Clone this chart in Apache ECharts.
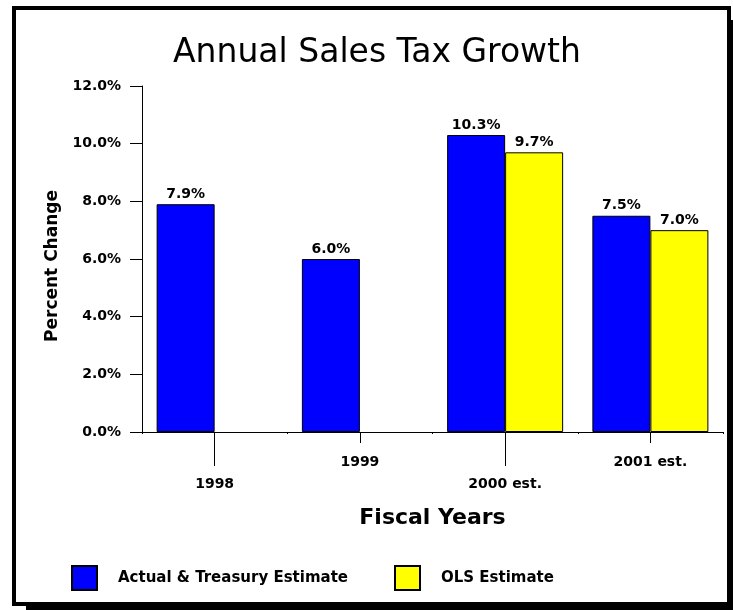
<!DOCTYPE html>
<html>
<head>
<meta charset="utf-8">
<script src="https://cdn.jsdelivr.net/npm/echarts@6/dist/echarts.min.js"></script>
<style>
  html, body { margin: 0; padding: 0; background: #ffffff; }
  #chart { width: 733px; height: 610px; }
</style>
</head>
<body>
<div id="chart"></div>
<script>
// Fiscal years on the category axis
var categories = ['1998', '1999', '2000 est.', '2001 est.'];
// Percent change in sales tax revenue
var actualTreasury = [7.9, 6.0, 10.3, 7.5];
var olsEstimate = [null, null, 9.7, 7.0];
// Value axis range
var yMin = 0;
var yMax = 12;
var yStep = 2;

var FONT = 'DejaVu Sans';
var pct = function (v) { return Number(v).toFixed(1) + '%'; };

var chart = echarts.init(document.getElementById('chart'), null, { renderer: 'canvas' });

var boldText = { color: '#000', fontFamily: FONT, fontWeight: 'bold', fontSize: 14 };

chart.setOption({
  animation: false,
  backgroundColor: '#ffffff',
  textStyle: { fontFamily: FONT },
  graphic: [
    // drop shadow of the frame
    { type: 'rect', z: -2, silent: true,
      shape: { x: 26, y: 20, width: 720, height: 590 },
      style: { fill: '#000' } },
    // framed panel
    { type: 'rect', z: -1, silent: true,
      shape: { x: 14, y: 8, width: 715, height: 596 },
      style: { fill: '#fff', stroke: '#000', lineWidth: 4 } }
  ],
  title: {
    text: 'Annual Sales Tax Growth',
    left: 372,
    textAlign: 'center',
    top: 32,
    textStyle: { color: '#000', fontFamily: FONT, fontWeight: 'normal', fontSize: 33 }
  },
  legend: {
    left: 71,
    top: 565,
    padding: 0,
    itemWidth: 25,
    itemHeight: 24,
    itemGap: 46,
    icon: 'rect',
    textStyle: { color: '#000', fontFamily: FONT, fontWeight: 'bold', fontSize: 15, padding: [0, 0, 0, 16] },
    data: ['Actual & Treasury Estimate', 'OLS Estimate']
  },
  grid: { left: 142, right: 10, top: 86, bottom: 178, containLabel: false },
  xAxis: [
    {
      type: 'category',
      data: categories,
      position: 'bottom',
      axisLine: { lineStyle: { color: '#000', width: 1 } },
      axisTick: { show: true, length: 2, alignWithLabel: false, lineStyle: { color: '#000' } },
      axisLabel: { show: false },
      splitLine: { show: false },
      name: 'Fiscal Years',
      nameLocation: 'middle',
      nameGap: 75,
      nameTextStyle: { color: '#000', fontFamily: FONT, fontWeight: 'bold', fontSize: 22 }
    },
    {
      type: 'category',
      data: categories,
      position: 'bottom',
      axisLine: { show: false },
      axisTick: { show: true, length: 34, alignWithLabel: true,
        interval: function (i) { return i % 2 === 0; },
        lineStyle: { color: '#000' } },
      axisLabel: Object.assign({ margin: 45, interval: function (i) { return i % 2 === 0; } }, boldText),
      splitLine: { show: false }
    },
    {
      type: 'category',
      data: categories,
      position: 'bottom',
      axisLine: { show: false },
      axisTick: { show: true, length: 11, alignWithLabel: true,
        interval: function (i) { return i % 2 === 1; },
        lineStyle: { color: '#000' } },
      axisLabel: Object.assign({ margin: 23, interval: function (i) { return i % 2 === 1; } }, boldText),
      splitLine: { show: false }
    }
  ],
  yAxis: {
    type: 'value',
    min: yMin,
    max: yMax,
    interval: yStep,
    axisLine: { show: true, lineStyle: { color: '#000', width: 1 } },
    axisTick: { show: true, length: 12, lineStyle: { color: '#000' } },
    axisLabel: Object.assign({ margin: 21, formatter: pct }, boldText),
    splitLine: { show: false },
    name: 'Percent Change',
    nameLocation: 'middle',
    nameGap: 80,
    nameTextStyle: { color: '#000', fontFamily: FONT, fontWeight: 'bold', fontSize: 17, padding: [0, 14, 0, 0] }
  },
  series: [
    {
      name: 'Actual & Treasury Estimate',
      type: 'bar',
      xAxisIndex: 0,
      data: actualTreasury,
      barWidth: 58,
      barGap: '0%',
      itemStyle: { color: '#0000ff', borderColor: '#000', borderWidth: 1 },
      label: { show: true, position: 'top', distance: 3,
        formatter: function (p) { return pct(p.value); },
        color: '#000', fontFamily: FONT, fontWeight: 'bold', fontSize: 14 }
    },
    {
      name: 'OLS Estimate',
      type: 'bar',
      xAxisIndex: 0,
      data: olsEstimate,
      barWidth: 58,
      barGap: '0%',
      itemStyle: { color: '#ffff00', borderColor: '#000', borderWidth: 1 },
      label: { show: true, position: 'top', distance: 3,
        formatter: function (p) { return p.value == null ? '' : pct(p.value); },
        color: '#000', fontFamily: FONT, fontWeight: 'bold', fontSize: 14 }
    }
  ]
});
</script>
</body>
</html>
